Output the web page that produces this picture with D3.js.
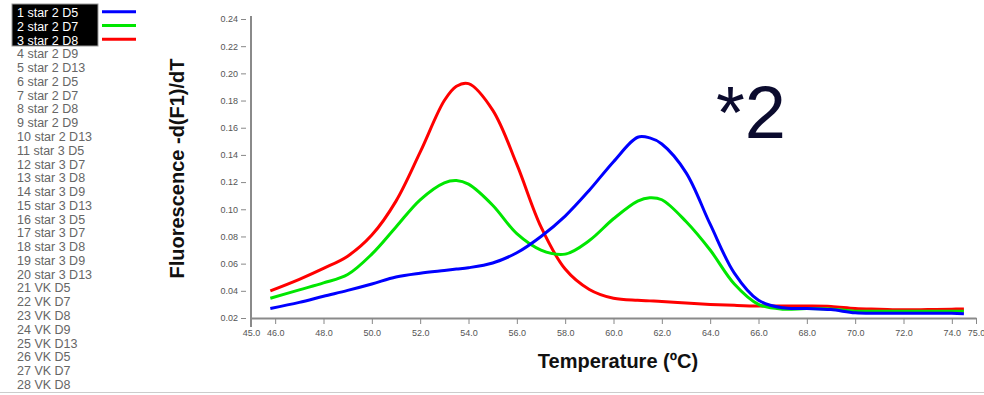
<!DOCTYPE html>
<html>
<head>
<meta charset="utf-8">
<script src="https://cdn.jsdelivr.net/npm/d3@7"></script>
<style>
  body { margin: 0; background: #fff; }
  svg { display: block; font-family: "Liberation Sans", Arial, sans-serif; }
</style>
</head>
<body>
<script>
// melt curve, -d(F1)/dT against temperature
var temps = [45.8, 47, 48, 49, 50, 51, 52, 53, 53.5, 54, 55, 56, 57, 58, 59, 60, 61, 61.5, 62, 63, 64, 65, 66, 67, 68, 69, 70, 71, 72, 73, 74, 74.5];
var d5 = [0.027, 0.0315, 0.036, 0.0403, 0.045, 0.0502, 0.053, 0.055, 0.056, 0.057, 0.0605, 0.068, 0.080, 0.095, 0.114, 0.135, 0.153, 0.1525, 0.148, 0.127, 0.089, 0.053, 0.033, 0.0275, 0.027, 0.0262, 0.0238, 0.0235, 0.0235, 0.0235, 0.0235, 0.0232];
var d7 = [0.0345, 0.0407, 0.0458, 0.052, 0.067, 0.087, 0.107, 0.1195, 0.1212, 0.1185, 0.103, 0.082, 0.070, 0.067, 0.077, 0.093, 0.106, 0.1085, 0.107, 0.091, 0.070, 0.045, 0.030, 0.0265, 0.027, 0.0266, 0.025, 0.025, 0.025, 0.025, 0.025, 0.025];
var d8 = [0.040, 0.0485, 0.0565, 0.0655, 0.081, 0.106, 0.142, 0.180, 0.1905, 0.1925, 0.173, 0.133, 0.087, 0.056, 0.041, 0.0345, 0.033, 0.0326, 0.0322, 0.031, 0.030, 0.0293, 0.0288, 0.0288, 0.0288, 0.0285, 0.027, 0.0265, 0.026, 0.0262, 0.0265, 0.0266];

var xTicks = [45, 46, 48, 50, 52, 54, 56, 58, 60, 62, 64, 66, 68, 70, 72, 74, 75];
var yTicks = [0.02, 0.04, 0.06, 0.08, 0.10, 0.12, 0.14, 0.16, 0.18, 0.20, 0.22, 0.24];

var sampleNames = ["1 star 2 D5", "2 star 2 D7", "3 star 2 D8", "4 star 2 D9", "5 star 2 D13",
  "6 star 2 D5", "7 star 2 D7", "8 star 2 D8", "9 star 2 D9", "10 star 2 D13",
  "11 star 3 D5", "12 star 3 D7", "13 star 3 D8", "14 star 3 D9", "15 star 3 D13",
  "16 star 3 D5", "17 star 3 D7", "18 star 3 D8", "19 star 3 D9", "20 star 3 D13",
  "21 VK D5", "22 VK D7", "23 VK D8", "24 VK D9", "25 VK D13",
  "26 VK D5", "27 VK D7", "28 VK D8"];

var series = [
  { name: "3 star 2 D8", values: d8, color: "#ff0000" },
  { name: "2 star 2 D7", values: d7, color: "#00e600" },
  { name: "1 star 2 D5", values: d5, color: "#0000ff" }
];

var W = 984, H = 395;
var svg = d3.select("body").append("svg")
  .attr("width", W)
  .attr("height", H);

var x = d3.scaleLinear().domain([45, 75]).range([251, 976]);
var y = d3.scaleLinear().domain([0.02, 0.24]).range([318, 19]);

// axes
var xAxis = svg.append("g")
  .attr("transform", "translate(0,318)")
  .call(d3.axisBottom(x).tickValues(xTicks).tickSize(6).tickSizeOuter(0).tickFormat(d3.format(".1f")));
xAxis.select(".domain").attr("stroke", "#8a8a8a").attr("stroke-width", 2);
xAxis.selectAll(".tick line").attr("stroke", "#888");
xAxis.selectAll(".tick text").attr("font-size", 9).attr("fill", "#555").attr("dy", "0.95em");

var yAxis = svg.append("g")
  .attr("transform", "translate(251,0)")
  .call(d3.axisLeft(y).tickValues(yTicks).tickSize(5).tickSizeOuter(0).tickFormat(d3.format(".2f")));
yAxis.select(".domain").attr("stroke", "#8a8a8a").attr("stroke-width", 2)
  .attr("d", "M0,16V327");
yAxis.selectAll(".tick line").attr("stroke", "#888").attr("x1", -5).attr("x2", -10);
yAxis.selectAll(".tick text").attr("font-size", 9).attr("fill", "#555").attr("x", -13);

// curves
var line = d3.line()
  .x((d, i) => x(temps[i]))
  .y(d => y(d))
  .curve(d3.curveCatmullRom.alpha(0.5));

svg.selectAll(".curve").data(series).enter().append("path")
  .attr("class", "curve")
  .attr("d", d => line(d.values))
  .attr("fill", "none")
  .attr("stroke", d => d.color)
  .attr("stroke-width", 3)
  .attr("stroke-linejoin", "round");

// axis titles
svg.append("text")
  .attr("transform", "translate(184,168.5) rotate(-90)")
  .attr("text-anchor", "middle")
  .attr("font-size", 20)
  .attr("font-weight", "bold")
  .attr("fill", "#111")
  .text("Fluorescence -d(F1)/dT");

svg.append("text")
  .attr("x", 618)
  .attr("y", 368)
  .attr("text-anchor", "middle")
  .attr("font-size", 20)
  .attr("font-weight", "bold")
  .attr("fill", "#111")
  .text("Temperature (ºC)");

svg.append("text")
  .attr("x", 716)
  .attr("y", 138)
  .attr("font-size", 74)
  .attr("fill", "#0b0b2e")
  .text("*2");

// sample list on the left
var rowY = d3.scaleLinear().domain([0, 1]).range([12.7, 26.47]);
svg.append("rect")
  .attr("x", 12).attr("y", 4)
  .attr("width", 86).attr("height", 42)
  .attr("fill", "#000")
  .attr("stroke", "#999");

svg.selectAll(".sample").data(sampleNames).enter().append("text")
  .attr("class", "sample")
  .attr("x", 17)
  .attr("y", (d, i) => rowY(i))
  .attr("dy", "0.35em")
  .attr("font-size", 12.5)
  .attr("fill", (d, i) => i < 3 ? "#fff" : "#666")
  .text(d => d);

var legendColors = ["#0000ff", "#00e600", "#ff0000"];
svg.selectAll(".swatch").data(legendColors).enter().append("line")
  .attr("class", "swatch")
  .attr("x1", 102).attr("x2", 136)
  .attr("y1", (d, i) => rowY(i) - 1)
  .attr("y2", (d, i) => rowY(i) - 1)
  .attr("stroke", d => d)
  .attr("stroke-width", 3);

// bottom frame line
svg.append("line")
  .attr("x1", 0).attr("x2", W)
  .attr("y1", 392.5).attr("y2", 392.5)
  .attr("stroke", "#ccc");
</script>
</body>
</html>
